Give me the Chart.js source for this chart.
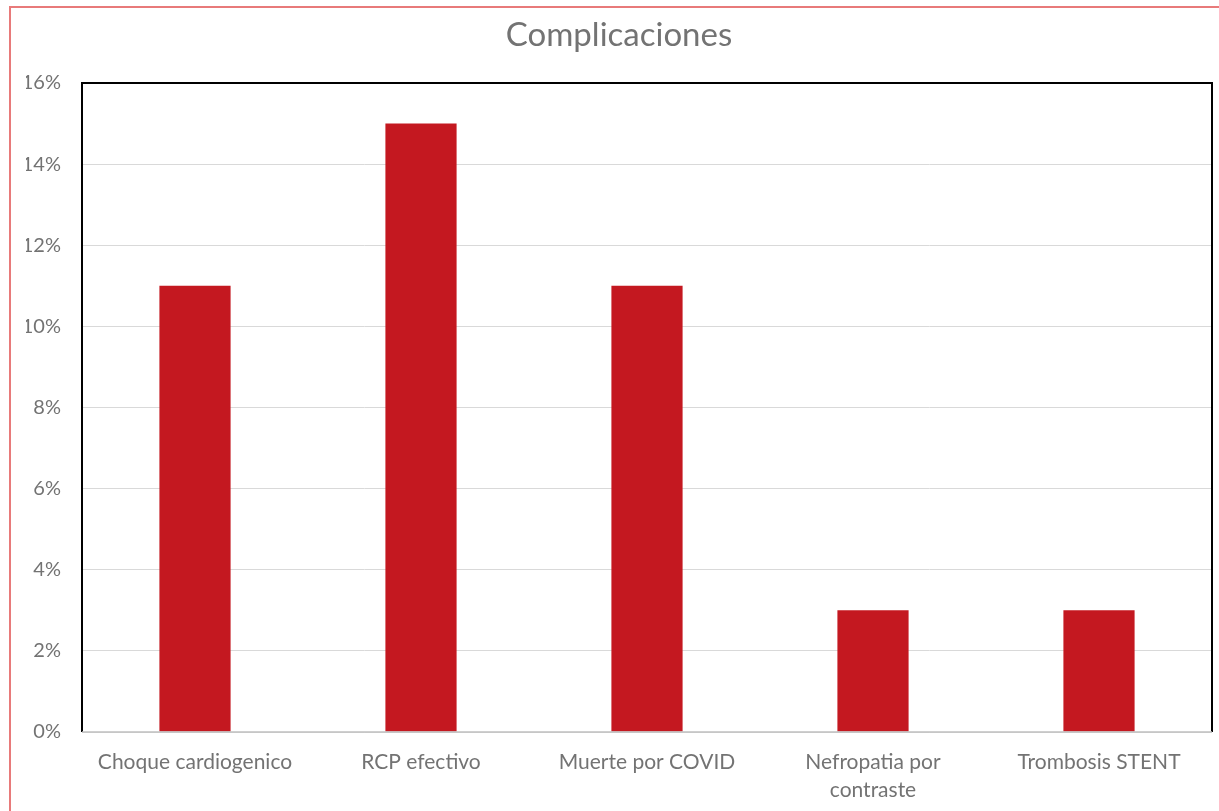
<!DOCTYPE html>
<html>
<head>
<meta charset="utf-8">
<title>Complicaciones</title>
<script src="https://cdn.jsdelivr.net/npm/chart.js@4/dist/chart.umd.min.js"></script>
<style>
  html, body { margin: 0; padding: 0; background: #ffffff; }
  #wrap { position: relative; width: 1219px; height: 811px; }
</style>
</head>
<body>
<div id="wrap"><canvas id="chart" width="1219" height="811"></canvas></div>
<script>
// Complication categories and their share of patients (%)
const categories = [
  'Choque cardiogenico',
  'RCP efectivo',
  'Muerte por COVID',
  ['Nefropatia por', 'contraste'],
  'Trombosis STENT'
];
const percentages = [11, 15, 11, 3, 3];
const yTicks = [0, 2, 4, 6, 8, 10, 12, 14, 16];

const FONT = 'Lato, "Open Sans", "DejaVu Sans", sans-serif';
const TEXT_GREY = '#737373';

// Red outline around the whole figure and black frame around the plot area
const framePlugin = {
  id: 'frames',
  beforeDraw(chart) {
    const ctx = chart.ctx;
    ctx.save();
    ctx.fillStyle = '#ffffff';
    ctx.fillRect(0, 0, chart.width, chart.height);
    ctx.strokeStyle = '#E87A7A';
    ctx.lineWidth = 2;
    ctx.strokeRect(10, 7, chart.width + 40, chart.height + 40);
    ctx.restore();
  },
  afterDraw(chart) {
    const a = chart.chartArea;
    const ctx = chart.ctx;
    ctx.save();
    ctx.strokeStyle = '#000000';
    ctx.lineWidth = 2;
    ctx.beginPath();
    ctx.moveTo(a.left, a.bottom);
    ctx.lineTo(a.left, a.top);
    ctx.lineTo(a.right, a.top);
    ctx.lineTo(a.right, a.bottom);
    ctx.stroke();
    ctx.strokeStyle = '#BFBFBF';
    ctx.lineWidth = 1.5;
    ctx.beginPath();
    ctx.moveTo(a.left, a.bottom);
    ctx.lineTo(a.right, a.bottom);
    ctx.stroke();
    ctx.restore();
  }
};

new Chart(document.getElementById('chart'), {
  type: 'bar',
  data: {
    labels: categories,
    datasets: [{
      label: 'Complicaciones',
      data: percentages,
      backgroundColor: '#C41820',
      borderWidth: 0,
      categoryPercentage: 1,
      barPercentage: 0.315
    }]
  },
  options: {
    responsive: false,
    animation: false,
    layout: { padding: { left: 26, right: 7, top: 0, bottom: 0 } },
    plugins: {
      legend: { display: false },
      tooltip: { enabled: false },
      title: {
        display: true,
        text: 'Complicaciones',
        color: TEXT_GREY,
        font: { family: FONT, size: 33, weight: 'normal', lineHeight: 1.2 },
        padding: { top: 16, bottom: 27.4 }
      }
    },
    scales: {
      x: {
        grid: { display: false, drawTicks: false },
        border: { display: false },
        ticks: {
          color: TEXT_GREY,
          font: { family: FONT, size: 21, lineHeight: 1.35 },
          padding: 16,
          maxRotation: 0,
          autoSkip: false
        },
        afterFit(scale) { scale.height = 79; }
      },
      y: {
        min: 0,
        max: 16,
        afterBuildTicks(scale) { scale.ticks = yTicks.map(v => ({ value: v })); },
        grid: { color: '#D9D9D9', lineWidth: 1, drawTicks: false },
        border: { display: false },
        ticks: {
          color: TEXT_GREY,
          font: { family: FONT, size: 20 },
          padding: 21,
          callback: v => v + '%'
        },
        afterFit(scale) { scale.width = 56; }
      }
    }
  },
  plugins: [framePlugin]
});
</script>
</body>
</html>
